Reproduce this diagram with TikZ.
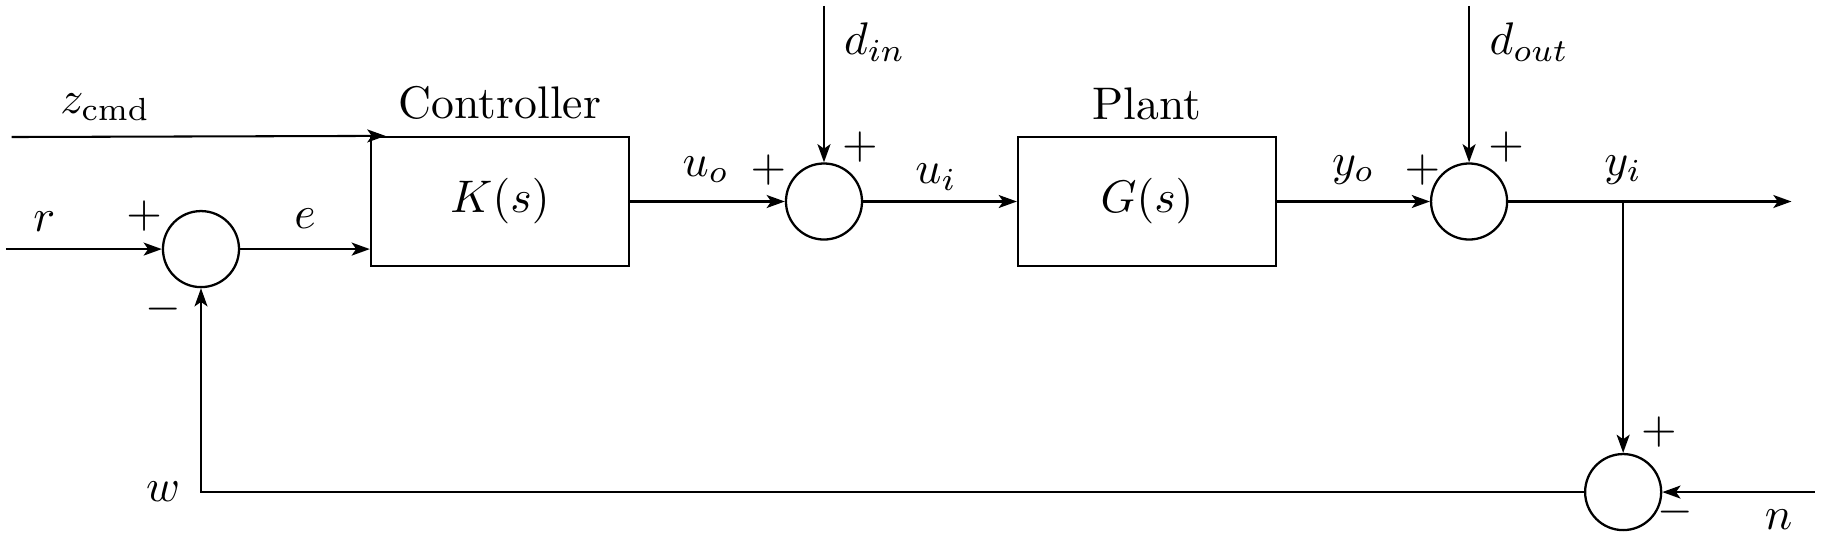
\documentclass[tikz,border=0pt]{standalone}
\usepackage{amsmath}
\usepackage{tikz}
\usetikzlibrary{arrows.meta, positioning, calc}

\begin{document}
\begin{tikzpicture}[
  block/.style={draw, line width=0.5pt, minimum width=1.985cm, minimum height=0.992cm},
  sumnode/.style={draw, circle, line width=0.5pt, minimum size=0.585cm, inner sep=0pt},
  arr/.style={-{Stealth[length=1.4mm, width=1mm, inset=0.35mm]}, line width=0.45pt},
  sgn/.style={inner sep=0pt}
]
\useasboundingbox (0,0) rectangle (14.03,4.185);

% blocks and summing junctions
\node[sumnode] (sum1) at (1.546,2.269) {};
\node[block] (K) at (3.846,2.635) {$K(s)$};
\node[sumnode] (sum2) at (6.338,2.635) {};
\node[block] (G) at (8.823,2.635) {$G(s)$};
\node[sumnode] (sum3) at (11.30,2.635) {};
\node[sumnode] (sum4) at (12.485,0.4) {};

\node[above=0pt of K] (ctrl) {Controller};
\node[above=0pt of G] (plant) {Plant};

% free ends
\coordinate (rin) at (0.046,2.269);
\coordinate (zin) at (0.09,3.131);
\coordinate (dinTop) at (6.338,4.14);
\coordinate (doutTop) at (11.30,4.14);
\coordinate (branch) at (12.485,2.635);
\coordinate (yout) at (13.78,2.635);
\coordinate (nin) at (13.96,0.4);
\coordinate (wcorner) at (1.546,0.4);

% signals
\draw[arr] (rin) -- (sum1);
\draw[arr] (sum1) -- (sum1 -| K.west);
\draw[arr] (zin) -- ([xshift=1.2mm]K.north west);
\draw[arr] (K) -- (sum2);
\draw[arr] (dinTop) -- (sum2);
\draw[arr] (sum2) -- (G);
\draw[arr] (G) -- (sum3);
\draw[arr] (doutTop) -- (sum3);
\draw[arr] (sum3) -- (yout);
\draw[arr] (branch) -- (sum4);
\draw[arr] (nin) -- (sum4);
\draw[arr] (sum4.west) -- (wcorner) -- (sum1);

% labels
\node (zlab) at (0.81,3.36) {$z_{\text{cmd}}$};
\node (rlab) at (0.34,2.48) {$r$};
\node[sgn] (p1) at (1.108,2.52) {$+$};
\node (elab) at (2.346,2.5) {$e$};
\node[sgn] (m1) at (1.254,1.81) {$-$};
\node (wlab) at (1.254,0.4) {$w$};

\node (uolab) at (5.43,2.88) {$u_o$};
\node[sgn] (p2) at (5.91,2.88) {$+$};
\node[sgn] (p3) at (6.615,3.05) {$+$};
\node[anchor=west, inner sep=0pt] (dinlab) at (6.485,3.86) {$d_{in}$};
\node (uilab) at (7.2,2.82) {$u_i$};

\node (yolab) at (10.41,2.88) {$y_o$};
\node[sgn] (p4) at (10.94,2.88) {$+$};
\node[sgn] (p5) at (11.585,3.05) {$+$};
\node[anchor=west, inner sep=0pt] (doutlab) at (11.45,3.86) {$d_{out}$};
\node (yilab) at (12.485,2.88) {$y_i$};

\node[sgn] (p6) at (12.76,0.86) {$+$};
\node[sgn] (m2) at (12.885,0.246) {$-$};
\node (nlab) at (13.68,0.185) {$n$};
\end{tikzpicture}
\end{document}
